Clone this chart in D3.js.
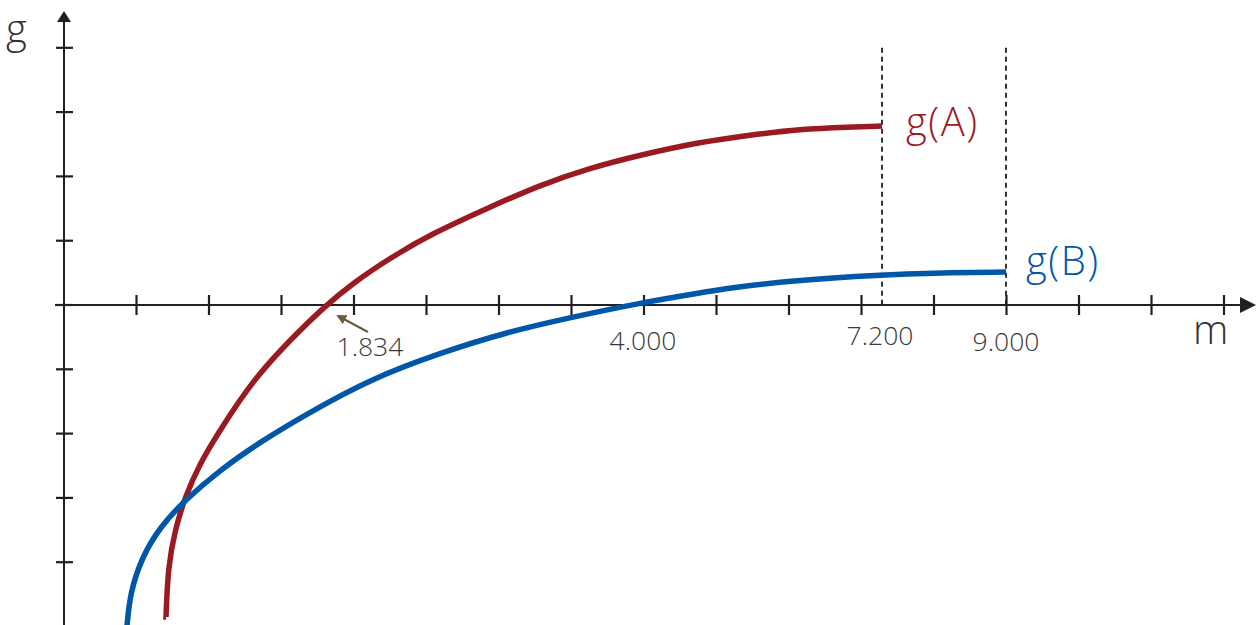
<!DOCTYPE html>
<html>
<head>
<meta charset="utf-8">
<script src="https://cdn.jsdelivr.net/npm/d3@7"></script>
<style>
  html, body { margin: 0; padding: 0; background: #fff; }
  svg { display: block; }
  text { font-family: "Open Sans", "DejaVu Sans", sans-serif; font-weight: 300; }
</style>
</head>
<body>
<div class="chart"></div>
<script>
var width = 1256
var height = 625

// curve samples (axis units: one tick = 1)
const curveA_m = [1.407, 1.407, 1.434, 1.531, 1.669, 1.876, 2.152, 2.607, 3.117, 3.600, 3.986, 4.497, 5.090, 5.876, 6.566, 7.255, 7.945, 8.772, 9.462, 10.152, 10.841, 11.283, 11.283];
const curveA_g = [-4.852, -4.852, -4.075, -3.499, -2.986, -2.457, -1.944, -1.166, -0.544, -0.016, 0.342, 0.731, 1.120, 1.524, 1.866, 2.131, 2.333, 2.535, 2.644, 2.737, 2.768, 2.784, 2.784];
const curveB_m = [0.866, 0.866, 0.910, 1.076, 1.324, 1.669, 2.152, 2.703, 3.393, 4.262, 5.186, 6.110, 7.021, 7.945, 8.772, 9.186, 9.876, 10.566, 11.255, 11.945, 12.993, 12.993];
const curveB_g = [-5.03, -5.03, -4.479, -3.919, -3.453, -3.033, -2.566, -2.131, -1.664, -1.135, -0.747, -0.420, -0.187, 0.031, 0.187, 0.264, 0.358, 0.420, 0.467, 0.498, 0.513, 0.513];

const xTicks = [1, 2, 3, 4, 5, 6, 7, 8, 9, 10, 11, 12, 13, 14, 15, 16];
const yTicks = [-4, -3, -2, -1, 0, 1, 2, 3, 4];

// marked values on the m axis
const markLabels = ["1.834", "4.000", "7.200", "9.000"];
const markAt = [4.22, 7.986, 11.255, 12.993];
const dashAt = [11.283, 12.993];

const seriesNames = ["g(A)", "g(B)"];
const seriesColors = ["#9a1a21", "#0057a8"];

var x = d3.scaleLinear().domain([0, 16]).range([64, 1224]);
var y = d3.scaleLinear().domain([0, 4]).range([305, 47.8]);

var svg = d3.select(".chart").append("svg")
    .attr("width", width)
    .attr("height", height);

var defs = svg.append("defs");
defs.append("marker")
    .attr("id", "tip")
    .attr("viewBox", "0 0 10 10")
    .attr("refX", 8).attr("refY", 5)
    .attr("markerWidth", 5).attr("markerHeight", 5)
    .attr("orient", "auto")
  .append("path")
    .attr("d", "M0,0L10,5L0,10Z")
    .attr("fill", "#6d5b3e");

var ink = "#231f20";

// dashed guides
svg.selectAll(".guide")
  .data(dashAt)
  .enter().append("line")
    .attr("class", "guide")
    .attr("x1", d => x(d)).attr("x2", d => x(d))
    .attr("y1", y(4)).attr("y2", y(0))
    .attr("stroke", "#333")
    .attr("stroke-width", 2)
    .attr("stroke-dasharray", "5,4");

// axes
svg.append("line")
    .attr("x1", 55).attr("x2", 1242)
    .attr("y1", y(0)).attr("y2", y(0))
    .attr("stroke", ink).attr("stroke-width", 2);
svg.append("path")
    .attr("d", "M1240," + (y(0) - 8) + "L1256," + y(0) + "L1240," + (y(0) + 8) + "Z")
    .attr("fill", ink);

svg.append("line")
    .attr("x1", x(0)).attr("x2", x(0))
    .attr("y1", 20).attr("y2", height)
    .attr("stroke", ink).attr("stroke-width", 2);
svg.append("path")
    .attr("d", "M" + (x(0) - 7) + ",22L" + x(0) + ",11L" + (x(0) + 7) + ",22Z")
    .attr("fill", ink);

svg.selectAll(".xtick")
  .data(xTicks)
  .enter().append("line")
    .attr("class", "xtick")
    .attr("x1", d => x(d)).attr("x2", d => x(d))
    .attr("y1", y(0) - 10).attr("y2", y(0) + 10)
    .attr("stroke", ink).attr("stroke-width", 2.2);

svg.selectAll(".ytick")
  .data(yTicks)
  .enter().append("line")
    .attr("class", "ytick")
    .attr("x1", x(0) - 8).attr("x2", x(0) + 9)
    .attr("y1", d => y(d)).attr("y2", d => y(d))
    .attr("stroke", ink).attr("stroke-width", 2.2);

// curves (basis spline smooths the hand-read samples)
var line = d3.line()
    .x(d => x(d[0]))
    .y(d => y(d[1]))
    .curve(d3.curveBasis);

var series = [
  d3.zip(curveA_m, curveA_g),
  d3.zip(curveB_m, curveB_g)
];

svg.selectAll(".curve")
  .data(series)
  .enter().append("path")
    .attr("class", "curve")
    .attr("d", line)
    .attr("fill", "none")
    .attr("stroke", (d, i) => seriesColors[i])
    .attr("stroke-width", 5.5);

// series labels at curve ends
var labelDx = [24, 20], labelDy = [10, 3];
svg.selectAll(".slabel")
  .data(series)
  .enter().append("text")
    .attr("class", "slabel")
    .attr("x", (d, i) => x(d[d.length - 1][0]) + labelDx[i])
    .attr("y", (d, i) => y(d[d.length - 1][1]) + labelDy[i])
    .attr("font-size", 40)
    .attr("letter-spacing", 1.5)
    .attr("fill", (d, i) => seriesColors[i])
    .text((d, i) => seriesNames[i]);

// marked values
var labelY = [356, 350, 345, 351];
svg.selectAll(".mark")
  .data(markLabels)
  .enter().append("text")
    .attr("class", "mark")
    .attr("x", (d, i) => x(markAt[i]))
    .attr("y", (d, i) => labelY[i])
    .attr("text-anchor", "middle")
    .attr("font-size", 26.5)
    .attr("fill", "#3a3a3a")
    .text(d => d);

// arrow to the root of g(A)
svg.append("line")
    .attr("x1", 368).attr("y1", 332)
    .attr("x2", x(3.78)).attr("y2", 316)
    .attr("stroke", "#6d5b3e")
    .attr("stroke-width", 2)
    .attr("marker-end", "url(#tip)");

// axis names
svg.append("text")
    .attr("x", 6).attr("y", 43)
    .attr("font-size", 40)
    .attr("fill", "#333")
    .text("g");
svg.append("text")
    .attr("x", 1193).attr("y", 344)
    .attr("font-size", 40)
    .attr("fill", "#333")
    .text("m");
</script>
</body>
</html>
